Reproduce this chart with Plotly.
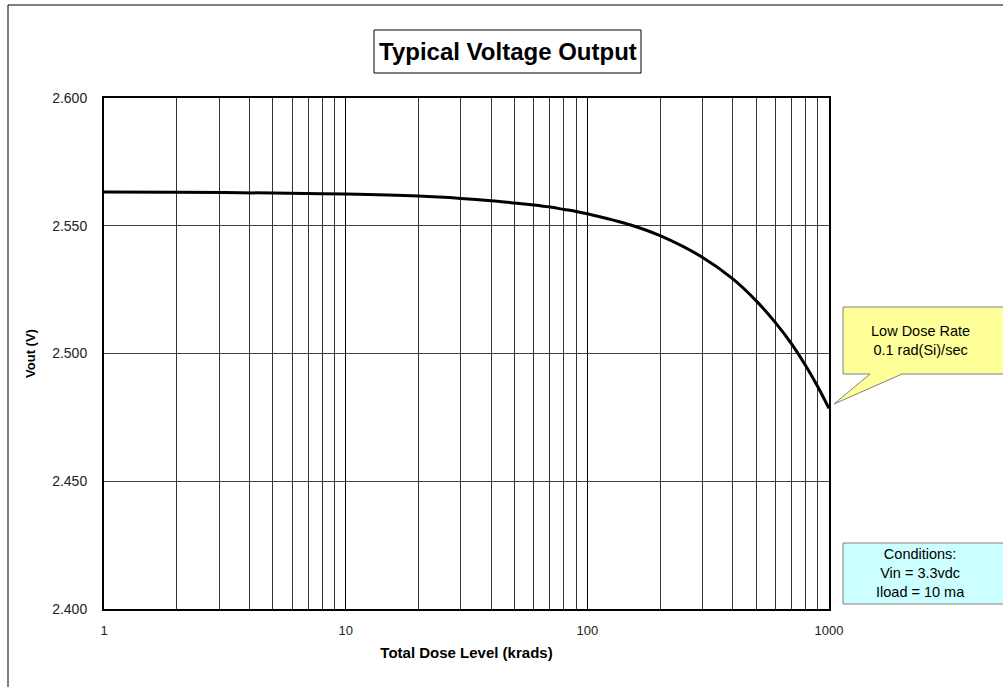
import plotly.graph_objects as go

dose = [1, 2, 5, 10, 20, 30, 40, 50, 60, 70, 80, 90, 100, 150, 200, 300, 400, 500, 600, 700, 800, 900, 1000]
vout = [2.5632, 2.5631, 2.5628, 2.5624, 2.5616, 2.5607, 2.5598, 2.5589, 2.5581, 2.5573, 2.5564, 2.5556, 2.5547,
        2.5504, 2.5461, 2.5376, 2.5292, 2.5206, 2.5121, 2.5038, 2.4953, 2.4869, 2.4785]

x_major = [1, 10, 100, 1000]
x_minor = [m * d for d in (1, 10, 100) for m in range(2, 10)]
y_ticks = [2.40, 2.45, 2.50, 2.55, 2.60]

W, H = 1003, 687
L, R, T, B = 104, 829, 98, 609

def px(x):
    return (x - L) / (R - L)

def py(y):
    return (B - y) / (B - T)

fig = go.Figure()
fig.add_trace(go.Scatter(x=dose, y=vout, mode="lines",
                         line=dict(color="black", width=3, shape="spline", smoothing=1.0),
                         showlegend=False, hoverinfo="skip"))

font = "Arial, Liberation Sans, sans-serif"

fig.update_layout(
    width=W, height=H,
    margin=dict(l=L, r=W - R, t=T, b=H - B),
    paper_bgcolor="white", plot_bgcolor="white",
    font=dict(family=font, color="black", size=12),
    xaxis=dict(type="log", range=[0, 3], tickvals=x_major, ticktext=[str(v) for v in x_major],
               showgrid=True, gridcolor="black", gridwidth=1,
               minor=dict(tickvals=x_minor, showgrid=True, gridcolor="#333333", gridwidth=1, ticks=""),
               ticks="", showline=True, linecolor="black", linewidth=2, mirror=True,
               tickfont=dict(size=13, color="#222"), ticklabelstandoff=8,
               title=dict(text="<b>Total Dose Level (krads)</b>", font=dict(size=15), standoff=11),
               zeroline=False),
    yaxis=dict(range=[2.40, 2.60], tickvals=y_ticks, tickformat=".3f",
               showgrid=True, gridcolor="#444444", gridwidth=1,
               ticks="", showline=True, linecolor="black", linewidth=2, mirror=True,
               tickfont=dict(size=14, color="#222"), ticklabelstandoff=12,
               title=dict(text="<b>Vout (V)</b>", font=dict(size=13), standoff=14),
               zeroline=False),
)

shapes = []
shapes.append(dict(type="rect", xref="paper", yref="paper",
                   x0=px(8), x1=px(1010), y0=py(700), y1=py(5),
                   line=dict(color="black", width=1), fillcolor="rgba(0,0,0,0)", layer="below"))
shapes.append(dict(type="rect", xref="paper", yref="paper",
                   x0=px(374), x1=px(641), y0=py(73), y1=py(30),
                   line=dict(color="black", width=1), fillcolor="white"))
pts = [(843, 307), (1010, 307), (1010, 374), (902, 374), (834, 404), (870, 374), (843, 374)]
path = "M " + " L ".join(f"{px(a)},{py(b)}" for a, b in pts) + " Z"
shapes.append(dict(type="path", xref="paper", yref="paper", path=path,
                   fillcolor="#FFFF99", line=dict(color="#808080", width=1)))
shapes.append(dict(type="rect", xref="paper", yref="paper",
                   x0=px(843), x1=px(1010), y0=py(604), y1=py(543),
                   line=dict(color="#808080", width=1), fillcolor="#CCFFFF"))
fig.update_layout(shapes=shapes)

annotations = [
    dict(text="<b>Typical Voltage Output</b>", xref="paper", yref="paper",
         x=px(507.5), y=py(52), xanchor="center", yanchor="middle",
         showarrow=False, font=dict(size=24, family=font)),
    dict(text="Low Dose Rate<br>0.1 rad(Si)/sec", xref="paper", yref="paper",
         x=px(921), y=py(340), xanchor="center", yanchor="middle",
         showarrow=False, font=dict(size=14.5, family=font), align="center"),
    dict(text="Conditions:<br>Vin = 3.3vdc<br>Iload = 10 ma", xref="paper", yref="paper",
         x=px(921), y=py(573), xanchor="center", yanchor="middle",
         showarrow=False, font=dict(size=14.5, family=font), align="center"),
]
fig.update_layout(annotations=annotations)

fig.write_html("out.html", config={"displayModeBar": False},
               post_script="document.body.style.margin='0px';")
